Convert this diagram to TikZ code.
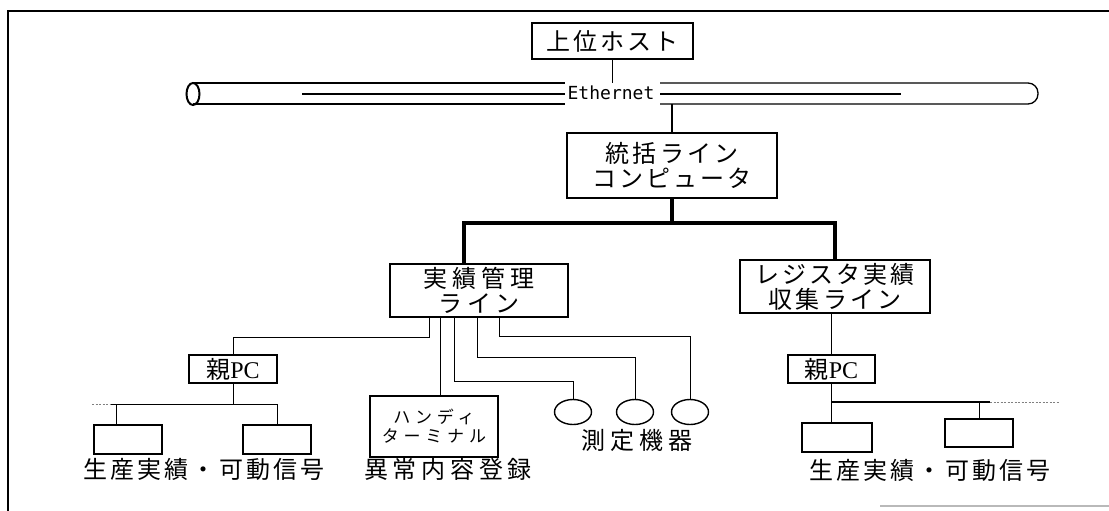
\documentclass[tikz,border=0pt]{standalone}
\usepackage{fontspec}
\setmainfont{Liberation Serif}
\newfontfamily\jpa[LetterSpace=13]{Noto Sans CJK JP}
\newfontfamily\jpb[LetterSpace=20]{Noto Sans CJK JP}
\newfontfamily\jpc[LetterSpace=28]{Noto Sans CJK JP}
\newfontfamily\ethfont{DejaVu Sans Mono}
\usetikzlibrary{shapes.geometric}
\tikzset{
 box/.style={draw, rectangle, line width=1.6pt, inner sep=0pt, outer sep=0pt, align=center},
 ln/.style={line width=1pt},
 trunk/.style={line width=3.2pt},
 jfont/.style={font=\jpa\fontsize{24}{25}\selectfont},
 jwide/.style={font=\jpb\fontsize{24}{25}\selectfont},
 lbl/.style={inner sep=0pt, outer sep=0pt},
 dev/.style={ellipse, draw, line width=1.4pt, minimum width=37pt, minimum height=25pt, inner sep=0pt, outer sep=0pt},
 term/.style={draw, rectangle, line width=1.4pt, minimum width=68pt, minimum height=29pt, inner sep=0pt, outer sep=0pt},
 pipe/.style={line width=1.3pt},
}
\begin{document}
\begin{tikzpicture}[x=1pt,y=-1pt]
\useasboundingbox (0,0) rectangle (1109,511);
\fill[white] (0,0) rectangle (1109,511);
% frame
\draw[line width=2.2pt] (1109,11) -- (8,11) -- (8,511);
\draw[gray!55, line width=1.5pt] (880,506) -- (1109,506);

% host
\node[box, jfont, minimum width=161pt, minimum height=36pt] (host) at (612.5,41) {上位ホスト};
% Ethernet pipe
\node[lbl, font=\ethfont\fontsize{18}{20}\selectfont] (eth) at (611,93) {Ethernet};
\coordinate (ptop) at (0,83);
\coordinate (pmid) at (0,94);
\coordinate (pbot) at (0,104);
\coordinate (pl) at (193,94);
\coordinate (ethL) at (565,0);
\coordinate (ethR) at (660,0);
\draw[line width=2pt] (pl) ellipse [x radius=6.5, y radius=11];
\draw[pipe] (pl |- ptop) -- (ethL |- ptop);
\draw[pipe] (pl |- pbot) -- (ethL |- pbot);
\draw[pipe] (302,94) -- (ethL |- pmid);
\draw[pipe, rounded corners=10pt] (ethR |- ptop) -- (1038,83) -- (1038,104) -- (ethR |- pbot);
\draw[pipe] (ethR |- pmid) -- (901,94);
\draw[ln] (host.south) -- (host.south |- ptop);

% integrating computer
\node[box, jfont, minimum width=210pt, minimum height=65pt] (tk) at (672,165.5) {統括ライン\\コンピュータ};
\draw[ln, line width=1.3pt] (tk.north |- pbot) -- (tk.north);

% second level
\node[box, jwide, minimum width=178pt, minimum height=53pt] (jk) at (479,290.5) {実績管理\\ライン};
\node[box, jfont, minimum width=190pt, minimum height=53pt] (rg) at (835,286.5) {レジスタ実績\\収集ライン};
\coordinate (tbus) at (0,223);
\coordinate (jkx) at (464,0);
\draw[trunk] (tk.south) -- (tk.south |- tbus);
\draw[trunk] (jkx |- jk.north) -- (jkx |- tbus) -- (rg.north |- tbus) -- (rg.north);

% left parent PC
\node[box, font=\fontsize{24}{25}\selectfont, minimum width=88pt, minimum height=28pt] (lp) at (233,369) {{\jpa 親}PC};
\coordinate (x429) at (429,0);
\coordinate (y337) at (0,337);
\draw[ln] (jk.south -| x429) -- (x429 |- y337) -| (lp.north);

% left bus and terminals
\coordinate (lbus) at (0,404);
\coordinate (lb1x) at (116,0);
\node[term] (lb1) at (128,439.5) {};
\node[term] (lb2) at (277,439.5) {};
\draw[ln] (lp.south) -- (lp.south |- lbus);
\draw[ln] (110,404) -- (lb2.north |- lbus) -- (lb2.north);
\draw[ln, gray, dash pattern=on 2pt off 1.5pt] (92,404) -- (110,404);
\draw[ln] (lb1x |- lbus) -- (lb1x |- lb1.north);
\node[lbl, jfont] (ll) at (204,469) {生産実績・可動信号};

% handy terminal
\node[box, line width=2.2pt, font=\jpc\fontsize{17}{19}\selectfont, minimum width=128pt, minimum height=61pt] (hd) at (434,426.5) {ハンディ\\ターミナル};
\coordinate (x440) at (440,0);
\draw[ln] (jk.south -| x440) -- (x440 |- hd.north);
\node[lbl, jwide] (hl) at (448,469) {異常内容登録};

% measuring instruments
\node[dev] (e1) at (573,412) {};
\node[dev] (e2) at (635,412) {};
\node[dev] (e3) at (690,412) {};
\coordinate (x454) at (454,0);
\coordinate (x477) at (477,0);
\coordinate (x499) at (499,0);
\draw[ln] (jk.south -| x454) -- (x454 |- 0,381) -| (e1.north);
\draw[ln] (jk.south -| x477) -- (x477 |- 0,357) -| (e2.north);
\draw[ln] (jk.south -| x499) -- (x499 |- 0,336) -| (e3.north);
\node[lbl, jwide] (ml) at (637,440) {測定機器};

% right parent PC
\node[box, font=\fontsize{24}{25}\selectfont, minimum width=87pt, minimum height=28pt] (rp) at (831.5,369) {{\jpa 親}PC};
\draw[ln] (rp.north |- rg.south) -- (rp.north);
\coordinate (rbus) at (0,402);
\node[term, minimum width=70pt] (rb1) at (837,437.5) {};
\node[term, minimum height=28pt] (rb2) at (979,433) {};
\draw[ln] (rp.south) -- (rp.south |- rb1.north);
\draw[ln, line width=1.4pt] (rp.south |- rbus) -- (990,402);
\draw[ln, gray, dash pattern=on 2pt off 1.5pt] (990,402) -- (1060,402);
\draw[ln] (rb2.north |- rbus) -- (rb2.north);
\node[lbl, jfont] (rl) at (930,470) {生産実績・可動信号};
\end{tikzpicture}
\end{document}
